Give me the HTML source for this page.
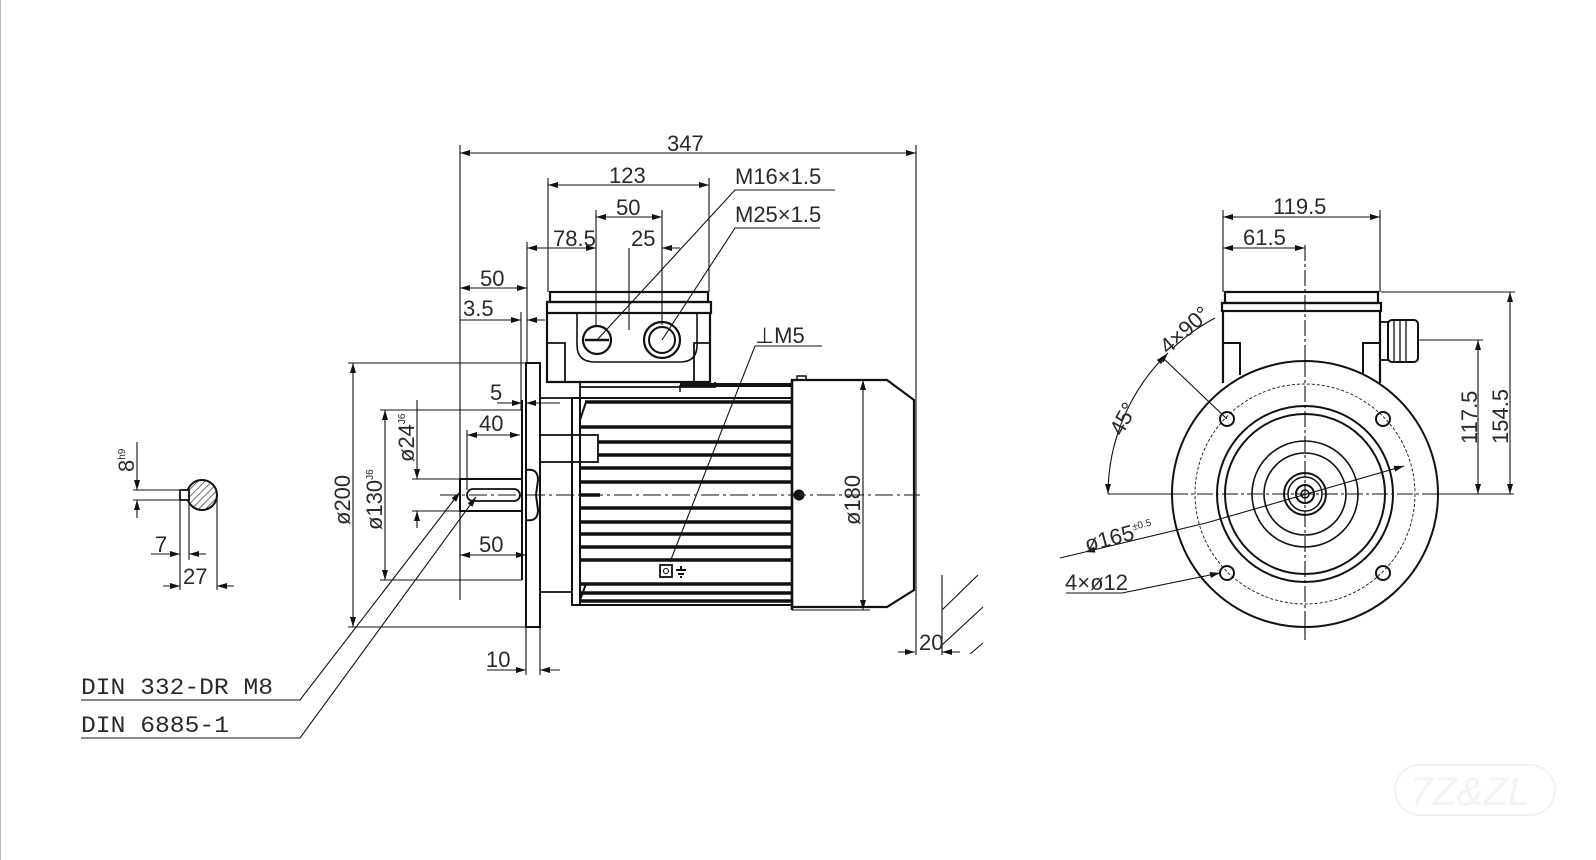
<!DOCTYPE html>
<html><head><meta charset="utf-8"><style>
html,body{margin:0;padding:0;background:#fff;}
svg{display:block}
text{font-family:"Liberation Sans",sans-serif;fill:#2a2a2a;font-size:22px}
</style></head><body>
<svg width="1596" height="860" viewBox="0 0 1596 860" xmlns="http://www.w3.org/2000/svg">
<defs>
<marker id="a" viewBox="0 0 10 6" refX="10" refY="3" markerWidth="14" markerHeight="6" markerUnits="userSpaceOnUse" orient="auto-start-reverse"><path d="M0,0 L10,3 L0,6z" fill="#111"/></marker>
<pattern id="h" width="5" height="5" patternUnits="userSpaceOnUse" patternTransform="rotate(45)"><line x1="0" y1="0" x2="0" y2="5" stroke="#111" stroke-width="1.2"/></pattern>
</defs>
<rect width="1596" height="860" fill="#fff"/>
<line x1="0.5" y1="0" x2="0.5" y2="860" stroke="#bbb"/>
<g stroke="#111" fill="none" stroke-width="1.1">
<line x1="460" y1="153" x2="916" y2="153" marker-start="url(#a)" marker-end="url(#a)"/>
<line x1="460" y1="145" x2="460" y2="600"/>
<line x1="916" y1="145" x2="916" y2="655"/>
<line x1="548" y1="185" x2="709" y2="185" marker-start="url(#a)" marker-end="url(#a)"/>
<line x1="548" y1="178" x2="548" y2="292"/>
<line x1="709" y1="178" x2="709" y2="292"/>
<line x1="596" y1="217" x2="662" y2="217" marker-start="url(#a)" marker-end="url(#a)"/>
<line x1="596" y1="210" x2="596" y2="325"/>
<line x1="662" y1="210" x2="662" y2="325"/>
<line x1="629" y1="248" x2="629" y2="330"/>
<line x1="527" y1="248" x2="596" y2="248" marker-start="url(#a)" marker-end="url(#a)"/>
<line x1="662" y1="248" x2="680" y2="248"/>
<line x1="662" y1="248" x2="663" y2="248" marker-start="url(#a)"/>
<line x1="527" y1="242" x2="527" y2="363"/>
<line x1="460" y1="288" x2="527" y2="288" marker-start="url(#a)" marker-end="url(#a)"/>
<line x1="460" y1="320" x2="521" y2="320" marker-end="url(#a)"/>
<line x1="545" y1="320" x2="527" y2="320" marker-end="url(#a)"/>
<line x1="521" y1="312" x2="521" y2="410"/>
<polyline points="835,190 735,190 597,340"/>
<polyline points="820,228 735,228 662,340"/>
<rect x="550" y="292" width="158" height="10" stroke-width="2.2"/>
<rect x="547" y="302" width="164" height="11" stroke-width="2.2"/>
<path d="M547,313 V382 H710 V313" stroke-width="2.2"/>
<path d="M547,343 H565 V382 M710,343 H694 V382" stroke-width="1.8"/>
<path d="M577,313 V345 Q577,362 595,362 H680 Q697,362 697,345 V313" stroke-width="1.6"/>
<circle cx="597" cy="340" r="14" stroke-width="2.2"/>
<line x1="585" y1="340" x2="609" y2="340" stroke-width="2.5"/>
<circle cx="662" cy="340" r="18" stroke-width="2.2"/>
<circle cx="662" cy="340" r="13" stroke-width="2"/>
<path d="M580,382 V387 H715 V382" stroke-width="1.8"/>
<rect x="526" y="363" width="14" height="264" stroke-width="2"/>
<line x1="522" y1="400" x2="522" y2="580" stroke-width="2"/>
<line x1="348" y1="363" x2="526" y2="363"/>
<line x1="348" y1="627" x2="526" y2="627"/>
<line x1="353" y1="363" x2="353" y2="627" marker-start="url(#a)" marker-end="url(#a)"/>
<line x1="380" y1="410" x2="522" y2="410"/>
<line x1="380" y1="580" x2="522" y2="580"/>
<line x1="385" y1="410" x2="385" y2="580" marker-start="url(#a)" marker-end="url(#a)"/>
<line x1="412" y1="479" x2="460" y2="479"/>
<line x1="412" y1="511" x2="460" y2="511"/>
<line x1="417" y1="400" x2="417" y2="479" marker-end="url(#a)"/>
<line x1="417" y1="528" x2="417" y2="511" marker-end="url(#a)"/>
<line x1="497" y1="403" x2="522" y2="403" marker-end="url(#a)"/>
<line x1="560" y1="403" x2="526" y2="403" marker-end="url(#a)"/>
<line x1="467" y1="435" x2="520" y2="435" marker-start="url(#a)" marker-end="url(#a)"/>
<line x1="467" y1="430" x2="467" y2="490"/>
<line x1="460" y1="555" x2="526" y2="555" marker-start="url(#a)" marker-end="url(#a)"/>
<line x1="460" y1="511" x2="460" y2="560"/>
<line x1="526" y1="627" x2="526" y2="675"/>
<line x1="540" y1="627" x2="540" y2="675"/>
<line x1="487" y1="670" x2="526" y2="670" marker-end="url(#a)"/>
<line x1="560" y1="670" x2="540" y2="670" marker-end="url(#a)"/>
<rect x="460" y="479" width="62" height="32" stroke-width="2"/>
<rect x="467" y="489" width="53" height="12" rx="6" stroke-width="1.8"/>
<path d="M526,470 Q538,468 538,480 L536,495 L538,510 Q538,522 526,520" stroke-width="2"/>
<path d="M540,398 H572 M540,592 H572" stroke-width="1.8"/>
<rect x="572" y="398" width="8" height="207" stroke-width="2"/>
<rect x="540" y="435" width="58" height="27" stroke-width="1.8"/>
<line x1="572" y1="435" x2="572" y2="462"/>
<line x1="580" y1="387" x2="580" y2="398" stroke-width="1.8"/>
<line x1="680" y1="385" x2="792" y2="385" stroke-width="4"/>
<line x1="680" y1="385" x2="680" y2="392" stroke-width="1.5"/>
<line x1="580" y1="398" x2="792" y2="398" stroke-width="2"/>
<line x1="580" y1="605" x2="792" y2="605" stroke-width="2"/>
<g stroke-width="3.5">
<line x1="585" y1="402" x2="792" y2="402"/>
<line x1="580" y1="427" x2="792" y2="427"/>
<line x1="598" y1="442" x2="792" y2="442"/>
<line x1="598" y1="455" x2="792" y2="455"/>
<line x1="580" y1="468" x2="792" y2="468"/>
<line x1="580" y1="482" x2="792" y2="482"/>
<line x1="580" y1="495" x2="600" y2="495"/>
<line x1="580" y1="508" x2="792" y2="508"/>
<line x1="580" y1="522" x2="792" y2="522"/>
<line x1="580" y1="534" x2="792" y2="534"/>
<line x1="580" y1="547" x2="792" y2="547"/>
<line x1="580" y1="560" x2="792" y2="560"/>
<line x1="580" y1="584" x2="792" y2="584"/>
<line x1="580" y1="593" x2="792" y2="593"/>
<line x1="580" y1="601" x2="792" y2="601"/>
</g>
<path d="M586,402 L580,420 M586,584 L580,600" stroke-width="2"/>
<path d="M792,380 H887 L914,400 V590 L887,607 H792 Z" stroke-width="2.2"/>
<line x1="792" y1="380" x2="792" y2="610" stroke-width="2.5"/>
<path d="M797,380 V376 H806 V380" stroke-width="1.5"/>
<line x1="792" y1="610" x2="870" y2="610"/>
<line x1="800" y1="380" x2="870" y2="380"/>
<line x1="863" y1="380" x2="863" y2="610" marker-start="url(#a)" marker-end="url(#a)"/>
<line x1="440" y1="495" x2="920" y2="495" stroke-dasharray="18,4,3,4" stroke-width="1"/>
<circle cx="799" cy="495" r="5" fill="#111"/>
<polyline points="822,346 755,346 670,562"/>
<rect x="660" y="565" width="12" height="12" stroke-width="1.8"/>
<circle cx="666" cy="571" r="2.5"/>
<path d="M676,570 h10 M678,574 h6 M680,577 h2 M681,566 v4" stroke-width="2"/>
<line x1="942" y1="575" x2="942" y2="655"/>
<line x1="898" y1="652" x2="915" y2="652" marker-end="url(#a)"/>
<line x1="960" y1="652" x2="942" y2="652" marker-end="url(#a)"/>
<path d="M942,610 L978,575 M942,645 L983,607 M970,654 L983,643"/>
<polyline points="81,700 300,700 460,492" marker-end="url(#a)"/>
<polyline points="81,738 300,738 476,497" marker-end="url(#a)"/>
<circle cx="202" cy="495" r="15" fill="url(#h)" stroke-width="2"/>
<rect x="180" y="490" width="9" height="10" fill="#fff" stroke-width="1.8"/>
<line x1="133" y1="490" x2="186" y2="490"/>
<line x1="133" y1="500" x2="186" y2="500"/>
<line x1="137" y1="442" x2="137" y2="490" marker-end="url(#a)"/>
<line x1="137" y1="518" x2="137" y2="500" marker-end="url(#a)"/>
<line x1="180" y1="500" x2="180" y2="590"/>
<line x1="189" y1="500" x2="189" y2="560"/>
<line x1="217" y1="495" x2="217" y2="590"/>
<line x1="151" y1="554" x2="180" y2="554" marker-end="url(#a)"/>
<line x1="206" y1="554" x2="189" y2="554" marker-end="url(#a)"/>
<line x1="163" y1="586" x2="180" y2="586" marker-end="url(#a)"/>
<line x1="234" y1="586" x2="217" y2="586" marker-end="url(#a)"/>
<line x1="1223" y1="217" x2="1380" y2="217" marker-start="url(#a)" marker-end="url(#a)"/>
<line x1="1223" y1="210" x2="1223" y2="292"/>
<line x1="1380" y1="210" x2="1380" y2="292"/>
<line x1="1223" y1="248" x2="1305" y2="248" marker-start="url(#a)" marker-end="url(#a)"/>
<line x1="1305" y1="245" x2="1305" y2="640" stroke-dasharray="16,3,3,3"/>
<rect x="1225" y="292" width="153" height="11" stroke-width="2.2"/>
<rect x="1222" y="303" width="159" height="8" stroke-width="2.2"/>
<path d="M1223,311 V383 M1380,311 V383" stroke-width="2.2"/>
<path d="M1223,343 H1240 V375 M1380,343 H1363 V375" stroke-width="2"/>
<rect x="1380" y="322" width="8" height="38" stroke-width="1.8"/>
<rect x="1388" y="320" width="30" height="42" rx="4" stroke-width="2"/>
<path d="M1394,320 V362 M1400,320 V362 M1406,320 V362" stroke-width="1.3"/>
<line x1="1381" y1="292" x2="1515" y2="292"/>
<line x1="1418" y1="340" x2="1483" y2="340"/>
<line x1="1510" y1="292" x2="1510" y2="494" marker-start="url(#a)" marker-end="url(#a)"/>
<line x1="1478" y1="340" x2="1478" y2="494" marker-start="url(#a)" marker-end="url(#a)"/>
<line x1="1108" y1="494" x2="1514" y2="494"/>
<circle cx="1305" cy="494" r="133" stroke-width="2" fill="#fff"/>
<circle cx="1305" cy="494" r="110" stroke-dasharray="3,2" stroke-width="0.9"/>
<circle cx="1305" cy="494" r="88" stroke-width="2"/>
<circle cx="1305" cy="494" r="80" stroke-width="2"/>
<circle cx="1305" cy="494" r="53" stroke-width="1.6"/>
<circle cx="1305" cy="494" r="41" stroke-width="1.6"/>
<circle cx="1305" cy="494" r="21" stroke-width="2"/>
<circle cx="1305" cy="494" r="17" stroke-width="1.5"/>
<circle cx="1305" cy="494" r="9" stroke-width="2"/>
<circle cx="1305" cy="494" r="4" stroke-width="1.5"/>
<line x1="1172" y1="494" x2="1438" y2="494" stroke-dasharray="16,3,3,3"/>
<line x1="1305" y1="361" x2="1305" y2="640" stroke-dasharray="16,3,3,3"/>
<g stroke-width="2"><circle cx="1227" cy="419" r="7"/><circle cx="1383" cy="419" r="7"/><circle cx="1227" cy="573" r="7"/><circle cx="1383" cy="573" r="7"/></g>
<path d="M1108,494 A197,197 0 0 1 1166,355" marker-start="url(#a)" marker-end="url(#a)"/>
<path d="M1172,349 A197,197 0 0 1 1215,318"/>
<line x1="1163" y1="358" x2="1227" y2="419"/>
<line x1="1160" y1="362" x2="1168" y2="353" marker-end="url(#a)"/>
<polyline points="1085,552 1206,523 1404,466" marker-start="url(#a)" marker-end="url(#a)"/>
<line x1="1085" y1="552" x2="1060" y2="558"/>
<polyline points="1066,593 1122,593 1220,573" marker-end="url(#a)"/>
</g>
<text x="667" y="151">347</text>
<text x="609" y="183">123</text>
<text x="616" y="215">50</text>
<text x="553" y="246">78.5</text>
<text x="631" y="246">25</text>
<text x="735" y="184">M16×1.5</text>
<text x="735" y="222">M25×1.5</text>
<text x="480" y="286">50</text>
<text x="463" y="316">3.5</text>
<text x="490" y="400">5</text>
<text x="479" y="431">40</text>
<text x="479" y="552">50</text>
<text x="486" y="667">10</text>
<text x="919" y="650">20</text>
<text x="755" y="343">⊥M5</text>
<text x="81" y="694" textLength="192" lengthAdjust="spacingAndGlyphs" style="font-family:'Liberation Mono',monospace;font-size:23px">DIN 332-DR M8</text>
<text x="81" y="732" textLength="148" lengthAdjust="spacingAndGlyphs" style="font-family:'Liberation Mono',monospace;font-size:23px">DIN 6885-1</text>
<text x="155" y="552">7</text>
<text x="183" y="584">27</text>
<text transform="translate(134,472) rotate(-90)">8<tspan font-size="10" dy="-9">h9</tspan></text>
<text transform="translate(350,525) rotate(-90)">ø200</text>
<text transform="translate(382,530) rotate(-90)">ø130<tspan font-size="10" dy="-9">J6</tspan></text>
<text transform="translate(414,462) rotate(-90)">ø24<tspan font-size="10" dy="-9">J6</tspan></text>
<text transform="translate(860,525) rotate(-90)">ø180</text>
<text x="1273" y="214">119.5</text>
<text x="1243" y="245">61.5</text>
<text transform="translate(1508,444) rotate(-90)">154.5</text>
<text transform="translate(1477,444) rotate(-90)">117.5</text>
<text transform="translate(1122,437) rotate(-62)">45°</text>
<text transform="translate(1168,355) rotate(-42)">4×90°</text>
<text transform="translate(1087,552) rotate(-15)">ø165<tspan font-size="10" dy="-9">±0.5</tspan></text>
<text x="1065" y="590">4×ø12</text>
<g stroke="#f2f2f2" fill="none" stroke-width="2"><rect x="1395" y="765" width="160" height="50" rx="25"/></g>
<text x="1410" y="805" style="font-size:40px;fill:#f4f4f4;font-style:italic">7Z&amp;ZL</text>
</svg>
</body></html>
